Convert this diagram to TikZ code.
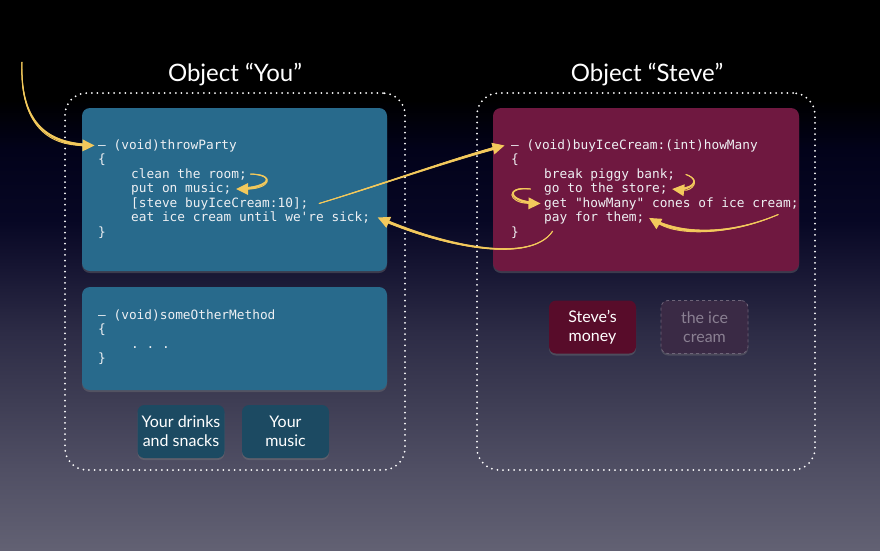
\documentclass[tikz,border=0pt]{standalone}
\usepackage{fontspec}
\setmainfont{Lato}
\newfontfamily\codefont{DejaVu Sans Mono}
\usetikzlibrary{arrows.meta,calc,shadows,decorations.markings}

\definecolor{bg0}{HTML}{626173}
\definecolor{bg1}{HTML}{504F64}
\definecolor{bg2}{HTML}{3E3D54}
\definecolor{bg3}{HTML}{2D2C46}
\definecolor{bg4}{HTML}{161532}
\definecolor{bg5}{HTML}{070724}
\definecolor{bg6}{HTML}{02021A}
\definecolor{bg7}{HTML}{000000}
\definecolor{youblue}{HTML}{286A8C}
\definecolor{youdark}{HTML}{1C4A62}
\definecolor{stevered}{HTML}{6F1840}
\definecolor{stevedark}{HTML}{580C2A}
\definecolor{ghostfill}{HTML}{3A2A45}
\definecolor{ghostline}{HTML}{6E6478}
\definecolor{ghosttext}{HTML}{8A8092}
\definecolor{codetext}{HTML}{EEF0F3}
\definecolor{flow}{HTML}{F3C95C}

% the filled area is mapped onto 25bp..75bp of the shading
\pgfdeclareverticalshading{stage}{100bp}{%
  color(0bp)=(bg0); color(25bp)=(bg0); color(32.3bp)=(bg1); color(38.6bp)=(bg2);
  color(44.7bp)=(bg3); color(50.7bp)=(bg4); color(55bp)=(bg5); color(61.4bp)=(bg6);
  color(65.9bp)=(bg7); color(100bp)=(bg7)}

\tikzset{
  group/.style={draw=white, line width=2pt, dash pattern=on 0pt off 5.6pt,
    line cap=round, rounded corners=22pt, inner sep=0pt},
  methodbox/.style={rounded corners=8pt, inner sep=0pt,
    drop shadow={opacity=0.35, shadow xshift=0pt, shadow yshift=-2pt}},
  itembox/.style={rounded corners=7pt, inner sep=0pt, align=center,
    minimum width=87pt, minimum height=53pt, text=white,
    font=\fontsize{16}{19}\selectfont,
    drop shadow={opacity=0.35, shadow xshift=0pt, shadow yshift=-2pt}},
  title/.style={text=white, font=\fontsize{24}{28}\selectfont},
  code/.style={anchor=base west, inner sep=1.5pt, text=codetext,
    font=\codefont\fontsize{12.8}{14.5}\selectfont},
  % a stroke that swells from thin to thick, ending in a broad tip
  flowarrow/.style={draw=flow, line width=1pt,
    -{Triangle[length=12pt,width=12pt,line width=0pt]},
    postaction={decorate, decoration={markings,
      mark=between positions 0 and -7pt step 0.5pt with {%
        \pgfmathsetmacro\flowr{0.5+1.15*\pgfkeysvalueof{/pgf/decoration/mark info/distance from start}/\pgfdecoratedpathlength}%
        \fill[flow] (0,0) circle (\flowr pt);}}}},
}

\begin{document}
\begin{tikzpicture}[x=1pt,y=-1pt]
  \useasboundingbox (0,0) rectangle (880,550);
  \shade[shading=stage] (0,0) rectangle (880,550);

  % object outlines and titles
  \node[title] (youtitle) at (235,75) {Object “You”};
  \node[title] (stevetitle) at (647,75) {Object “Steve”};
  \node[group, minimum width=340pt, minimum height=377pt] (you) at (235,281.5) {};
  \node[group, minimum width=338pt, minimum height=377pt] (steve) at (646,281.5) {};

  % method bodies
  \node[methodbox, fill=youblue, minimum width=305pt, minimum height=163pt] (party) at (234.5,189.5) {};
  \node[methodbox, fill=youblue, minimum width=305pt, minimum height=103pt] (other) at (234.5,338.5) {};
  \node[methodbox, fill=stevered, minimum width=306pt, minimum height=163pt] (buy) at (646,189.5) {};

  % instance variables
  \node[itembox, fill=youdark] (snacks) at (181,431.5) {Your drinks\\and snacks};
  \node[itembox, fill=youdark] (music) at (285.5,431.5) {Your\\music};
  \node[itembox, fill=stevedark] (money) at (592.5,327) {Steve’s\\money};
  \node[itembox, fill=ghostfill, draw=ghostline, dashed, line width=0.8pt,
        text=ghosttext, drop shadow={opacity=0}] (icecream) at (704.5,327) {the ice\\cream};

  % throwParty
  \node[code] (yl1) at (96.5,149)   {– (void)throwParty};
  \node[code] (yl2) at (96.5,163.5) {\{};
  \node[code] (yl3) at (129.5,178)  {clean the room;};
  \node[code] (yl4) at (129.5,192.5){put on music;};
  \node[code] (yl5) at (129.5,207)  {[steve buyIceCream:10];};
  \node[code] (yl6) at (129.5,221.5){eat ice cream until we\textquotesingle re sick;};
  \node[code] (yl7) at (96.5,236)   {\}};

  % someOtherMethod
  \node[code] (yo1) at (96.5,319)   {– (void)someOtherMethod};
  \node[code] (yo2) at (96.5,333.5) {\{};
  \node[code] (yo3) at (129.5,348)  {.\ .\ .};
  \node[code] (yo4) at (96.5,362.5) {\}};

  % buyIceCream:
  \node[code] (yr1) at (509.5,149)   {– (void)buyIceCream:(int)howMany};
  \node[code] (yr2) at (509.5,163.5) {\{};
  \node[code] (yr3) at (542.5,178)   {break piggy bank;};
  \node[code] (yr4) at (542.5,192.5) {go to the store;};
  \node[code] (yr5) at (542.5,207)   {get "howMany" cones of ice cream;};
  \node[code] (yr6) at (542.5,221.5) {pay for them;};
  \node[code] (yr7) at (509.5,236)   {\}};

  % flow of control
  \coordinate (caller) at (22,62);
  \draw[flowarrow] (caller) .. controls (20,118) and (42,145) .. ([xshift=-2pt]yl1.west);
  \draw[flowarrow] ([xshift=2pt]yl3.east) .. controls (278,175) and (268,189) .. ([xshift=3pt]yl4.east);
  \draw[flowarrow] ([xshift=9pt]yl5.east) .. controls (380,185) and (450,160) .. ([xshift=-5pt]yr1.west);
  \draw[flowarrow] ($(yr7.east)+(32,-1)$) .. controls (530,265) and (440,245) .. ([xshift=6pt]yl6.east);
  \draw[flowarrow] ([xshift=9pt]yr3.east) .. controls (702,180) and (692,191) .. ([xshift=3pt]yr4.east);
  \draw[flowarrow] ([xshift=-12pt]yr4.west) .. controls (504,186) and (508,203) .. ([xshift=-2pt]yr5.west);
  \draw[flowarrow] ($(yr5.east)+(-22,11)$) .. controls (730,235) and (680,236) .. ([xshift=3pt]yr6.east);
\end{tikzpicture}
\end{document}
